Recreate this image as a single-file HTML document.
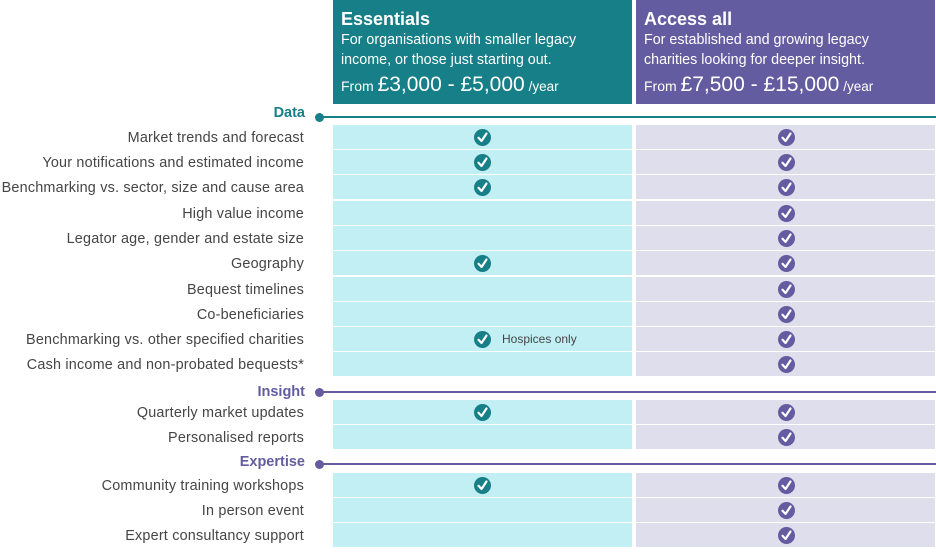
<!DOCTYPE html>
<html><head><meta charset="utf-8">
<style>
body{margin:0;width:936px;height:554px;background:#fff;position:relative;overflow:hidden;font-family:"Liberation Sans",sans-serif;}
.abs{position:absolute;}
.hdr{color:#fff;box-sizing:border-box;padding:8px 8px 0 8px;}
.hdr h2{margin:0;font-size:18px;font-weight:bold;line-height:22px;}
.hdr p{margin:0;font-size:14.3px;line-height:20px;white-space:nowrap;}
.hdr .price{margin-top:3px;font-size:14px;line-height:24px;}
.hdr .price b{font-weight:normal;font-size:21px;}
.hdr .price small{font-size:13.5px;}
.lbl{right:632px;font-size:14.4px;letter-spacing:0.2px;color:#454545;text-align:right;white-space:nowrap;line-height:24px;}
.sec{font-size:14.5px;font-weight:bold;right:631px;line-height:18px;}
.cell{height:24px;}
.chk{width:17px;height:17px;border-radius:50%;}
</style></head><body>
<div class="abs hdr" style="left:333px;top:0;width:299px;height:104px;background:#177f87;">
<h2>Essentials</h2><p>For organisations with smaller legacy<br>income, or those just starting out.</p>
<p class="price">From <b>£3,000 - £5,000</b> <small>/year</small></p></div>
<div class="abs hdr" style="left:636px;top:0;width:299px;height:104px;background:#645ca0;">
<h2>Access all</h2><p>For established and growing legacy<br>charities looking for deeper insight.</p>
<p class="price">From <b>£7,500 - £15,000</b> <small>/year</small></p></div>
<div id="root"></div>
<script>
const sections=["Data","Insight","Expertise"];
const sectionTops=[117,392,464];
const features=["Market trends and forecast","Your notifications and estimated income","Benchmarking vs. sector, size and cause area","High value income","Legator age, gender and estate size","Geography","Bequest timelines","Co-beneficiaries","Benchmarking vs. other specified charities","Cash income and non-probated bequests*","Quarterly market updates","Personalised reports","Community training workshops","In person event","Expert consultancy support"];
const featureSection=[0,0,0,0,0,0,0,0,0,0,1,1,2,2,2];
const rowTops=[125,150,175,201,226,251,277,302,327,352,400,425,473,498,523];
const essentials=[1,1,1,0,0,1,0,0,1,0,1,0,1,0,0];
const accessAll=[1,1,1,1,1,1,1,1,1,1,1,1,1,1,1];
const notes=["","","","","","","","","Hospices only","","","","","",""];
const secColors=["#177f87","#645ca0","#645ca0"];
const secLabelOffsets=[-13,-9,-11];
const root=document.getElementById('root');
function mk(cls,style){const d=document.createElement('div');d.className='abs '+cls;d.style.cssText=style;root.appendChild(d);return d;}
function check(x,y,color){
 const c=mk('chk',`left:${x-8.5}px;top:${y-8.5}px;background:${color};`);
 
 
 c.innerHTML='<svg width="17" height="17"><path d="M4.5 8.8 L7.5 12 L12.5 4.5" stroke="#fff" stroke-width="2.2" fill="none" stroke-linecap="round" stroke-linejoin="round"/></svg>';
}
sections.forEach((s,i)=>{
 const t=sectionTops[i];
 const l=mk('sec',`top:${t+secLabelOffsets[i]}px;color:${secColors[i]};`);l.textContent=s;
 
 
 const ln=mk('',`left:319px;top:${t-1}px;width:617px;height:2px;background:${secColors[i]};`);
 
 
 const dt=mk('',`left:315px;top:${t-4.5}px;width:9px;height:9px;border-radius:50%;background:${secColors[i]};`);
 
 
});
features.forEach((f,i)=>{
 const t=rowTops[i];
 const l=mk('lbl',`top:${t+1}px;`);l.textContent=f;
 
 
 const a=mk('cell',`left:333px;top:${t}px;width:299px;background:#c2eff3;`);
 
 
 const b=mk('cell',`left:636px;top:${t}px;width:299px;background:#dfdeec;`);
 
 
 if(essentials[i])check(482,t+12.5,'#177f87');
 if(accessAll[i])check(786,t+12.5,'#645ca0');
 if(notes[i]){const n=mk('',`left:502px;top:${t}px;line-height:24px;font-size:12px;color:#454545;`);n.textContent=notes[i];
  
  }
});
</script>
</body></html>
